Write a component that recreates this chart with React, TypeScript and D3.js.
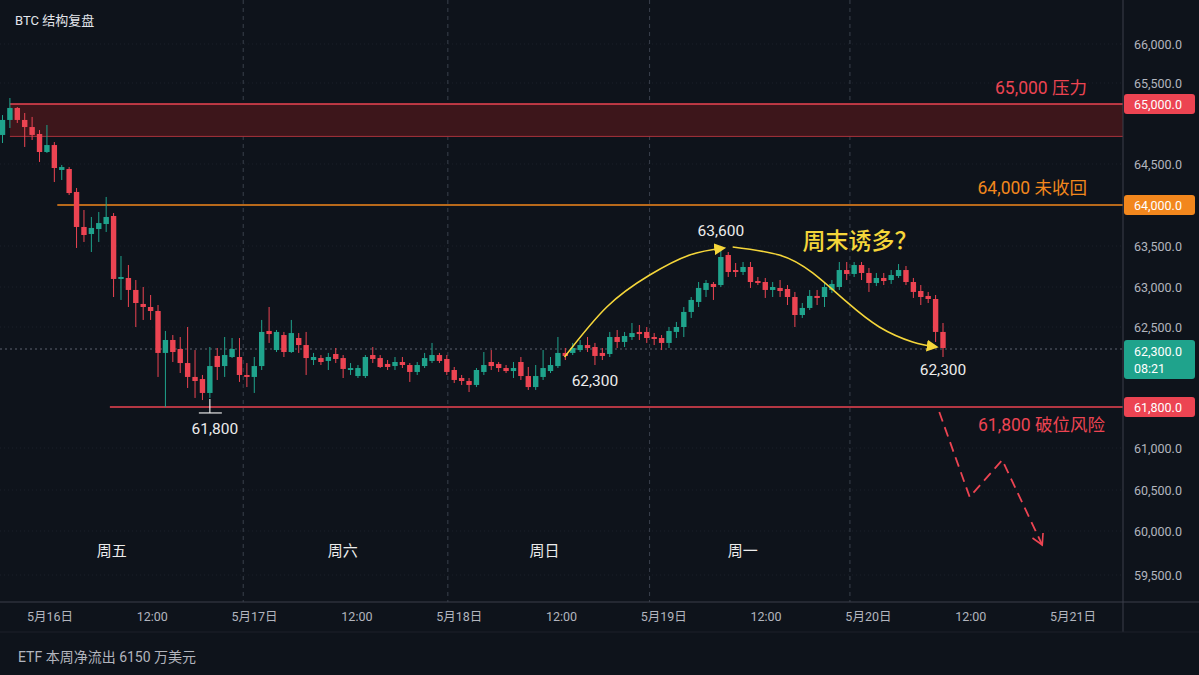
import React from "react";
import * as d3 from "d3";

const W = 1199;
const H = 675;

// ---- Candle data (BTC) ----
const opens = [64742,64867,64967,64867,64808,64750,64600,64658,64427,64439,
64159,63732,63646,63707,63768,63866,63098,63110,62963,62788,
62750,62700,62266,62382,62300,62179,62059,62041,61921,62240,
62153,62231,62231,62076,62059,62153,62464,62291,62427,62274,
62400,62336,62205,62222,62197,62257,62222,62119,62067,62067,
62248,62222,62171,62153,62188,62162,62102,62153,62197,62248,
62214,62119,62050,62024,61990,62102,62188,62171,62136,62110,
62188,62067,61972,62059,62110,62153,62266,62266,62291,62336,
62318,62266,62257,62409,62364,62409,62455,62455,62409,62400,
62355,62455,62500,62688,62813,62963,63037,63024,63390,63207,
63183,63244,63073,63061,62963,62988,62975,62875,62650,62738,
62888,62875,62963,63000,63207,63159,63268,63171,63049,63110,
63085,63134,63207,63061,62950,62888,62850,62455];

const highs = [64908,65143,64975,64925,64892,64783,64825,64683,64488,64463,
64207,63939,63854,63915,64098,63902,63378,63268,63085,63000,
62900,62775,62464,62427,62409,62500,62291,62076,62318,62309,
62409,62400,62400,62179,62231,62588,62750,62473,62455,62588,
62445,62455,62266,62248,62266,62309,62248,62179,62162,62248,
62318,62248,62205,62231,62231,62179,62188,62266,62355,62266,
62248,62145,62076,62050,62136,62274,62291,62188,62162,62188,
62231,62145,62162,62291,62231,62409,62309,62355,62382,62409,
62355,62309,62455,62473,62455,62550,62525,62500,62445,62427,
62500,62563,62750,62875,63061,63085,63061,63476,63427,63293,
63305,63305,63122,63110,63061,63085,63024,62938,62800,62963,
62963,63061,63085,63305,63305,63305,63305,63232,63171,63171,
63207,63280,63256,63110,63024,62938,62900,62550];

const lows = [64675,64800,64842,64642,64700,64517,64592,64280,64305,64122,
63476,63549,63427,63549,63671,62875,62838,62750,62500,62588,
62588,62059,61800,62188,62093,61964,61878,61860,61878,62033,
62059,62222,62016,61972,61921,62119,62355,62274,62231,62266,
62266,62076,62162,62162,62119,62179,62050,62076,62050,62050,
62179,62136,62119,62119,62136,62016,62076,62136,62179,62179,
62076,62007,61990,61929,61972,62076,62119,62102,62093,62050,
62033,61947,61947,62033,62093,62136,62205,62248,62274,62274,
62162,62205,62231,62309,62318,62382,62382,62355,62336,62291,
62309,62400,62409,62613,62750,62875,62838,63000,63122,63122,
63146,62988,63024,62863,62875,62875,62775,62500,62613,62713,
62775,62750,62925,62963,63085,63122,63085,62938,63012,63024,
63037,63110,63024,62863,62775,62800,62364,62231];

const closes = [64867,64967,64867,64808,64742,64600,64658,64451,64463,64146,
63732,63634,63720,63780,63854,63098,63122,62963,62800,62750,
62700,62266,62382,62274,62179,62059,62024,61921,62153,62145,
62248,62300,62076,62059,62153,62455,62436,62455,62274,62445,
62336,62222,62231,62188,62231,62214,62128,62136,62136,62231,
62214,62145,62145,62188,62162,62102,62162,62222,62248,62197,
62102,62033,62024,61990,62119,62162,62153,62136,62110,62136,
62067,61972,62067,62136,62162,62266,62240,62309,62336,62309,
62240,62240,62409,62364,62418,62445,62436,62400,62391,62355,
62464,62500,62688,62838,62988,63049,63000,63366,63183,63183,
63244,63061,63049,62963,63000,62950,62875,62650,62738,62888,
62863,63000,63037,63207,63159,63268,63171,63049,63110,63073,
63146,63207,63061,62938,62875,62850,62455,62309];

// ---- Axis / level data ----
const priceTicks = [66000, 65500, 64500, 63500, 63000, 62500, 61000, 60500, 60000, 59500];
const axisCalibPrices = [66000, 65500, 65000, 64500, 64000, 63500, 63000, 62500, 62300, 61800, 61000, 60500, 60000, 59500];
const resistanceTop = 65000;
const resistanceBottom = 64730;
const unrecovered = 64000;
const supportLevel = 61800;
const lastPrice = 62300;
const lastPriceTime = "08:21";
const timeStart = new Date(2024, 4, 16, 0, 0);
const timeEnd = new Date(2024, 4, 21, 0, 0);
const sessionBreaks = [
  new Date(2024, 4, 16, 22, 40),
  new Date(2024, 4, 17, 22, 40),
  new Date(2024, 4, 18, 22, 20),
  new Date(2024, 4, 19, 21, 50),
];
const weekdayNames = ["周五", "周六", "周日", "周一"];
const weekdayTimes = [
  new Date(2024, 4, 16, 7, 15),
  new Date(2024, 4, 17, 10, 20),
  new Date(2024, 4, 18, 10, 0),
  new Date(2024, 4, 19, 9, 15),
];

// annotation paths in (candle index, price)
const riseArrow: [number, number][] = [[75.9, 62231], [81.6, 62750], [87.4, 63146], [92.8, 63390], [97.4, 63476]];
const fallArrow: [number, number][] = [[98.6, 63488], [104.9, 63390], [109.4, 63171], [114.0, 62813], [118.4, 62500], [122.9, 62364], [126.1, 62318]];
const breakdownPath: [number, number][] = [[126.5, 61702], [130.6, 60415], [135.0, 60857], [140.4, 59841]];

const FONT = "Roboto, 'Noto Sans CJK SC', 'Noto Sans', sans-serif";
const BG = "#0e131b";
const RED = "#ec4452";
const GREEN = "#1fa38c";
const ORANGE = "#f2871d";
const YELLOW = "#f5d63a";
const AXIS_TXT = "#b2b5be";

const fmt = d3.format(",");
const fmt1 = (v: number) => d3.format(",.1f")(v);

export default function App() {
  const plotRight = 1123;
  const y = d3.scaleLinear()
    .domain(axisCalibPrices)
    .range([44, 83, 104, 164, 205, 246, 287, 327, 349, 407, 448, 490, 531, 575]);
  const xi = d3.scaleLinear().domain([0, opens.length - 1]).range([2.5, 943]);
  const xt = d3.scaleTime().domain([timeStart, timeEnd]).range([50, 1073]);
  const timeTicks = xt.ticks(d3.timeHour.every(12) as any);
  const bodyW = 5.4;

  const line = d3.line<[number, number]>()
    .x((d) => xi(d[0]))
    .y((d) => y(d[1]))
    .curve(d3.curveNatural);
  const polyline = d3.line<[number, number]>()
    .x((d) => xi(d[0]))
    .y((d) => y(d[1]));

  const lowIdx = 28;

  return (
    <svg width={W} height={H} style={{ position: "fixed", left: 0, top: 0, display: "block" }} fontFamily={FONT}>
      <defs>
        <marker id="ya" viewBox="0 0 10 10" refX="8" refY="5" markerWidth="12" markerHeight="12" orient="auto" markerUnits="userSpaceOnUse">
          <path d="M0,0 L10,5 L0,10 Z" fill={YELLOW} />
        </marker>
        <marker id="rv" viewBox="0 0 12 12" refX="10" refY="6" markerWidth="14" markerHeight="14" orient="auto" markerUnits="userSpaceOnUse">
          <path d="M1,1 L10,6 L1,11" fill="none" stroke={RED} strokeWidth="1.4" />
        </marker>
      </defs>
      <rect x={0} y={0} width={W} height={H} fill={BG} />

      {/* grid */}
      {priceTicks.map((p) => (
        <line key={"g" + p} x1={0} x2={plotRight} y1={y(p)} y2={y(p)} stroke="#1a202b" strokeDasharray="1 3" />
      ))}
      {sessionBreaks.map((t, i) => (
        <line key={"s" + i} x1={xt(t)} x2={xt(t)} y1={0} y2={602} stroke="#3a404c" strokeDasharray="4 4" />
      ))}

      {/* resistance zone */}
      <rect x={xi(1)} y={y(resistanceTop)} width={plotRight - xi(1)} height={y(resistanceBottom) - y(resistanceTop)} fill="#3d161b" />
      <line x1={xi(1)} x2={plotRight} y1={y(resistanceTop)} y2={y(resistanceTop)} stroke={RED} strokeWidth={1.5} />
      <line x1={xi(1)} x2={plotRight} y1={y(resistanceBottom)} y2={y(resistanceBottom)} stroke="#a8323c" strokeWidth={1} />

      {/* unrecovered level */}
      <line x1={xi(7.4)} x2={plotRight} y1={y(unrecovered)} y2={y(unrecovered)} stroke={ORANGE} strokeWidth={1.4} />
      {/* support */}
      <line x1={xi(14.5)} x2={plotRight} y1={y(supportLevel)} y2={y(supportLevel)} stroke={RED} strokeWidth={1.6} />
      {/* last price line */}
      <line x1={0} x2={plotRight} y1={y(lastPrice)} y2={y(lastPrice)} stroke="#5c6270" strokeDasharray="2 3" />

      {/* candles */}
      {opens.map((o, i) => {
        const c = closes[i];
        const up = c >= o;
        const col = up ? GREEN : RED;
        const x = xi(i);
        const top = y(Math.max(o, c));
        const bot = y(Math.min(o, c));
        return (
          <g key={"c" + i}>
            <line x1={x} x2={x} y1={y(highs[i])} y2={y(lows[i])} stroke={col} strokeWidth={1} />
            <rect x={x - bodyW / 2} y={top} width={bodyW} height={Math.max(1.5, bot - top)} fill={col} />
          </g>
        );
      })}

      {/* low marker */}
      <line x1={xi(lowIdx)} x2={xi(lowIdx)} y1={y(lows[lowIdx]) + 1} y2={y(lows[lowIdx]) + 15} stroke="#e6e6e6" strokeWidth={1.2} />
      <line x1={xi(lowIdx) - 11} x2={xi(lowIdx) + 12} y1={y(lows[lowIdx]) + 15} y2={y(lows[lowIdx]) + 15} stroke="#e6e6e6" strokeWidth={1.2} />
      <text x={xi(lowIdx) + 5} y={y(lows[lowIdx]) + 36} fill="#ececec" fontSize={15.5} textAnchor="middle">{fmt(supportLevel)}</text>

      {/* arrows */}
      <path d={line(riseArrow) || ""} fill="none" stroke={YELLOW} strokeWidth={1.6} markerEnd="url(#ya)" />
      <path d={line(fallArrow) || ""} fill="none" stroke={YELLOW} strokeWidth={1.6} markerEnd="url(#ya)" />
      <path d={polyline(breakdownPath) || ""} fill="none" stroke={RED} strokeWidth={1.8} strokeDasharray="10 6" markerEnd="url(#rv)" />

      {/* annotation texts */}
      <text x={xi(97)} y={y(highs[97]) - 12} fill="#ececec" fontSize={15.5} textAnchor="middle">63,600</text>
      <text x={xi(80)} y={y(lastPrice) + 37} fill="#ececec" fontSize={15.5} textAnchor="middle">{fmt(lastPrice)}</text>
      <text x={xi(127)} y={y(lastPrice) + 26} fill="#ececec" fontSize={15.5} textAnchor="middle">{fmt(lastPrice)}</text>
      <text x={860} y={249} fill={YELLOW} fontSize={23} fontWeight={500} textAnchor="middle">周末诱多？</text>

      <text x={1087} y={y(resistanceTop) - 10} fill={RED} fontSize={17.5} textAnchor="end">{fmt(resistanceTop)} 压力</text>
      <text x={1087} y={y(unrecovered) - 11} fill={ORANGE} fontSize={17.5} textAnchor="end">{fmt(unrecovered)} 未收回</text>
      <text x={1105} y={y(supportLevel) + 24} fill={RED} fontSize={17.5} textAnchor="end">{fmt(supportLevel)} 破位风险</text>

      {weekdayNames.map((n, i) => (
        <text key={"w" + i} x={xt(weekdayTimes[i])} y={556} fill="#ececec" fontSize={15} textAnchor="middle">{n}</text>
      ))}

      {/* title */}
      <text x={15} y={25} fill="#e3e6ec" fontSize={13}>BTC 结构复盘</text>

      {/* right axis */}
      <line x1={plotRight} x2={plotRight} y1={0} y2={632} stroke="#3a3f4a" strokeWidth={1} />
      {priceTicks.map((p) => (
        <text key={"t" + p} x={1134} y={y(p) + 4.5} fill={AXIS_TXT} fontSize={12.5}>{fmt1(p)}</text>
      ))}
      {[{ v: resistanceTop, c: RED }, { v: unrecovered, c: ORANGE }, { v: supportLevel, c: RED }].map((b) => (
        <g key={"b" + b.v}>
          <rect x={plotRight + 1} y={y(b.v) - 10} width={71} height={20} rx={3} fill={b.c} />
          <text x={1134} y={y(b.v) + 4.5} fill="#ffffff" fontSize={12.5}>{fmt1(b.v)}</text>
        </g>
      ))}
      <rect x={plotRight + 1} y={y(lastPrice) - 9} width={71} height={39} rx={3} fill={GREEN} />
      <text x={1134} y={y(lastPrice) + 7} fill="#ffffff" fontSize={12.5}>{fmt1(lastPrice)}</text>
      <text x={1134} y={y(lastPrice) + 24} fill="#ffffff" fontSize={12.5}>{lastPriceTime}</text>

      {/* bottom time axis */}
      <line x1={0} x2={W} y1={602} y2={602} stroke="#3a3f4a" strokeWidth={1.2} />
      <line x1={0} x2={W} y1={632} y2={632} stroke="#1c212b" strokeWidth={1} />
      {timeTicks.map((t, i) => {
        const mid = t.getHours() === 0;
        const label = mid ? `${t.getMonth() + 1}月${t.getDate()}日` : "12:00";
        return (
          <text key={"x" + i} x={xt(t)} y={621} fill={AXIS_TXT} fontSize={12.5} textAnchor="middle">{label}</text>
        );
      })}

      {/* footer */}
      <text x={18} y={662} fill={AXIS_TXT} fontSize={14}>ETF 本周净流出 6150 万美元</text>
    </svg>
  );
}
